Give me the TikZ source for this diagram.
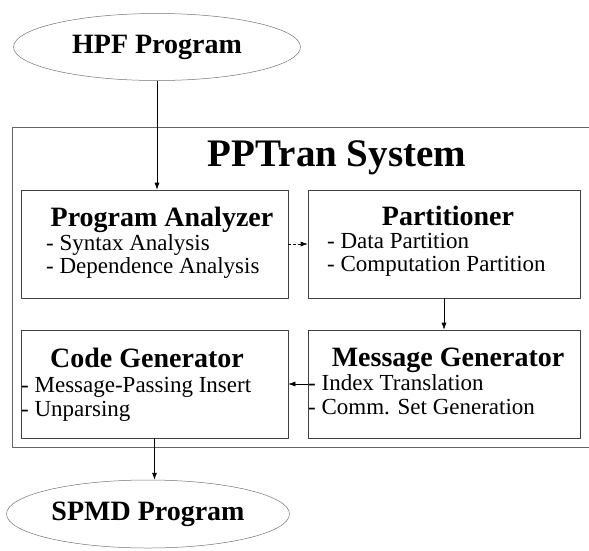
\documentclass[tikz,border=0pt]{standalone}
\usepackage{fontspec}
\setmainfont{Liberation Serif}
\usetikzlibrary{shapes.geometric, arrows.meta}

\tikzset{
  progshape/.style={draw=black!55, ellipse, line width=0.5pt, inner sep=0pt,
    font=\fontsize{28}{30}\selectfont\bfseries},
  frameline/.style={draw=black!60, line width=0.6pt},
  unitbox/.style={draw=black!75, line width=0.6pt, minimum height=108pt, inner sep=0pt},
  unittitle/.style={font=\fontsize{28}{30}\selectfont\bfseries, inner sep=0pt, anchor=base},
  unititem/.style={font=\fontsize{23}{24}\selectfont, inner sep=0pt, anchor=base west},
  flow/.style={->, line width=0.6pt},
}

\begin{document}
\begin{tikzpicture}[x=1pt, y=-1pt, >={Latex[length=7pt,width=5pt]}, line join=round]
  \useasboundingbox (0,0) rectangle (589,550);

  % input and output programs
  \node[progshape, minimum width=287pt, minimum height=67pt] (hpf) at (157,47) {HPF Program};
  \node[progshape, minimum width=283pt, minimum height=68pt] (spmd) at (148,514) {SPMD Program};

  % system frame, open at the right edge
  \draw[frameline] (589,127) -- (12,127) -- (12,447) -- (589,447);
  \node[font=\fontsize{39}{40}\selectfont\bfseries, inner sep=0pt, anchor=base] (sysname) at (337,166) {PPTran System};

  % the four units
  \node[unitbox, minimum width=267pt] (pa) at (154.5,244) {};
  \node[unitbox, minimum width=272pt] (part) at (444,244) {};
  \node[unitbox, minimum width=267pt] (cg) at (154.5,384) {};
  \node[unitbox, minimum width=272pt] (mg) at (444,384) {};

  % program analyzer
  \node[unittitle] (patitle) at (162,226) {Program Analyzer};
  \node[unititem] (pa1) at (46,250) {- Syntax Analysis};
  \node[unititem] (pa2) at (46,273) {- Dependence Analysis};
  % partitioner
  \node[unittitle] (parttitle) at (448,225) {Partitioner};
  \node[unititem] (part1) at (327,248) {- Data Partition};
  \node[unititem] (part2) at (327,271) {- Computation Partition};
  % code generator
  \node[unittitle] (cgtitle) at (147,367) {Code Generator};
  \node[unititem] (cg1) at (21,392) {- Message-Passing Insert};
  \node[unititem] (cg2) at (21,416) {- Unparsing};
  % message generator
  \node[unittitle] (mgtitle) at (448,366) {Message Generator};
  \node[unititem] (mg1) at (308,390) {- Index Translation};
  \node[unititem] (mg2) at (308,414) {- Comm. Set Generation};

  % connectors
  \draw[flow] (hpf.south) -- (hpf.south |- pa.north);
  \draw[flow, densely dashed] (pa.east) -- (part.west);
  \draw[flow] (part.south) -- (mg.north);
  \draw[flow] (mg.west) -- (cg.east);
  \draw[flow] (cg.south) -- (cg.south |- spmd.north);
\end{tikzpicture}
\end{document}
